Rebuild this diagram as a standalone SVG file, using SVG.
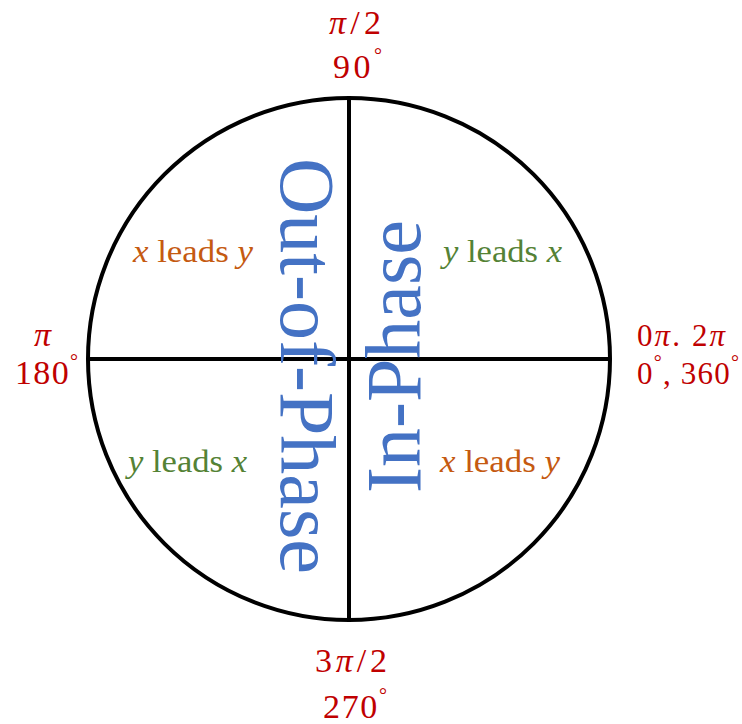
<svg xmlns="http://www.w3.org/2000/svg" width="742" height="724" viewBox="0 0 742 724">
<style>
.ln{stroke:#000;stroke-width:4;fill:none}
.red{fill:#C00000;font-family:"Liberation Serif",serif;font-size:34px}
.sm{font-size:31px}
.it{font-style:italic}
.deg{font-size:20px}
.lab{font-family:"Liberation Serif",serif;font-size:31px}
.or{fill:#C55A11}
.gr{fill:#548235}
.big{fill:#4472C4;font-family:"Liberation Serif",serif;font-size:78px}
</style>
<rect width="742" height="724" fill="#fff"/>
<g id="connectors">
<circle class="ln" cx="349" cy="359" r="261"/>
<line class="ln" x1="349" y1="98" x2="349" y2="620"/>
<line class="ln" x1="88" y1="359" x2="610" y2="359"/>
</g>
<g id="top-label">
<text class="red" x="329" y="34" textLength="52" lengthAdjust="spacing"><tspan class="it">π</tspan>/2</text>
<text class="red" x="333" y="78" textLength="49" lengthAdjust="spacing">90<tspan class="deg" dy="-16">°</tspan></text>
</g>
<g id="left-label">
<text class="red" x="34" y="346"><tspan class="it">π</tspan></text>
<text class="red" x="15" y="384" textLength="63" lengthAdjust="spacing">180<tspan class="deg" dy="-16">°</tspan></text>
</g>
<g id="right-label">
<text class="red sm" x="637" y="346" textLength="88" lengthAdjust="spacing">0<tspan class="it">π</tspan>. 2<tspan class="it">π</tspan></text>
<text class="red sm" x="637" y="384" textLength="102" lengthAdjust="spacing">0<tspan class="deg" dy="-15">°</tspan><tspan dy="15">, 360</tspan><tspan class="deg" dy="-15">°</tspan></text>
</g>
<g id="bottom-label">
<text class="red" x="315" y="672" textLength="72" lengthAdjust="spacing">3<tspan class="it">π</tspan>/2</text>
<text class="red" x="323" y="718" textLength="64" lengthAdjust="spacing">270<tspan class="deg" dy="-16">°</tspan></text>
</g>
<g id="q2"><text class="lab or" x="133" y="262" textLength="120" lengthAdjust="spacingAndGlyphs"><tspan class="it">x</tspan> leads <tspan class="it">y</tspan></text></g>
<g id="q1"><text class="lab gr" x="443" y="262" textLength="119" lengthAdjust="spacingAndGlyphs"><tspan class="it">y</tspan> leads <tspan class="it">x</tspan></text></g>
<g id="q3"><text class="lab gr" x="128" y="472" textLength="119" lengthAdjust="spacingAndGlyphs"><tspan class="it">y</tspan> leads <tspan class="it">x</tspan></text></g>
<g id="q4"><text class="lab or" x="440" y="472" textLength="120" lengthAdjust="spacingAndGlyphs"><tspan class="it">x</tspan> leads <tspan class="it">y</tspan></text></g>
<g id="out-of-phase"><text class="big" transform="translate(281,158) rotate(90)">Out-of-Phase</text></g>
<g id="in-phase"><text class="big" transform="translate(420,493) rotate(-90)">In-Phase</text></g>
</svg>
